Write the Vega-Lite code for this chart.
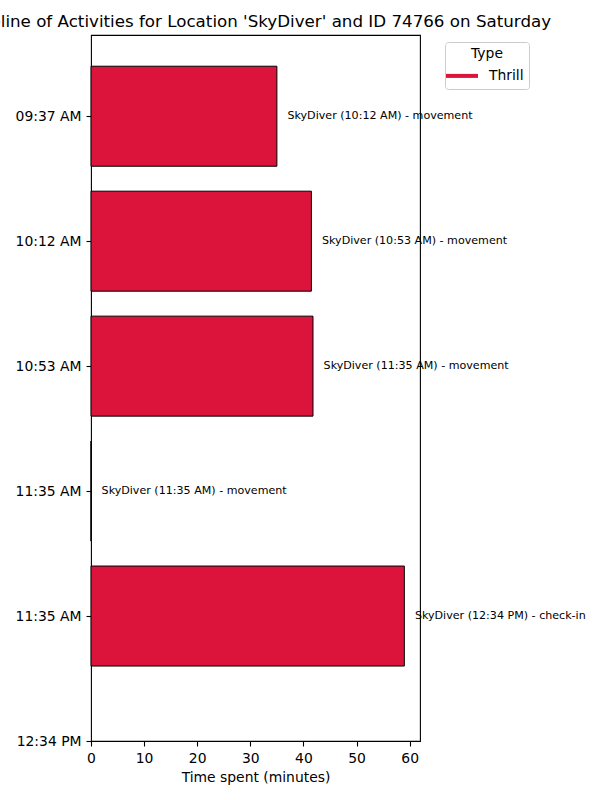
{
  "$schema": "https://vega.github.io/schema/vega-lite/v6.json",
  "autosize": {"type": "none"},
  "padding": {"left": 91, "top": 35, "right": 180, "bottom": 59},
  "width": 329,
  "height": 706,
  "title": {
    "text": "Timeline of Activities for Location 'SkyDiver' and ID 74766 on Saturday",
    "frame": "group",
    "anchor": "middle",
    "font": "DejaVu Sans",
    "fontSize": 16.7,
    "fontWeight": "normal",
    "color": "black",
    "offset": 4
  },
  "config": {
    "font": "DejaVu Sans",
    "view": {"stroke": "black", "strokeWidth": 1.1},
    "axis": {
      "domain": false,
      "grid": false,
      "ticks": true,
      "tickColor": "black",
      "tickSize": 5,
      "tickWidth": 1.1,
      "labelColor": "black",
      "labelFont": "DejaVu Sans",
      "labelFontSize": 13.9,
      "labelPadding": 5,
      "titleFont": "DejaVu Sans",
      "titleFontSize": 13.9,
      "titleFontWeight": "normal",
      "titleColor": "black",
      "titlePadding": 6
    }
  },
  "data": {
    "values": [
      {"i": 0, "time": "09:37 AM", "minutes": 35, "note": "SkyDiver (10:12 AM) - movement", "type": "Thrill"},
      {"i": 1, "time": "10:12 AM", "minutes": 41.5, "note": "SkyDiver (10:53 AM) - movement", "type": "Thrill"},
      {"i": 2, "time": "10:53 AM", "minutes": 41.8, "note": "SkyDiver (11:35 AM) - movement", "type": "Thrill"},
      {"i": 3, "time": "11:35 AM", "minutes": 0, "note": "SkyDiver (11:35 AM) - movement", "type": "Thrill"},
      {"i": 4, "time": "11:35 AM", "minutes": 59, "note": "SkyDiver (12:34 PM) - check-in", "type": "Thrill"}
    ]
  },
  "encoding": {
    "y": {
      "field": "i",
      "type": "quantitative",
      "scale": {"domain": [-0.65, 5], "reverse": true, "nice": false, "zero": false, "padding": 0},
      "axis": {
        "title": null,
        "values": [0, 1, 2, 3, 4, 5],
        "labelExpr": "['09:37 AM','10:12 AM','10:53 AM','11:35 AM','11:35 AM','12:34 PM'][datum.value]"
      }
    },
    "x": {
      "field": "minutes",
      "type": "quantitative",
      "stack": null,
      "scale": {"domain": [0, 61.95], "nice": false, "padding": 0},
      "axis": {
        "title": "Time spent (minutes)",
        "values": [0, 10, 20, 30, 40, 50, 60],
        "labelFlush": false
      }
    }
  },
  "layer": [
    {
      "mark": {"type": "bar", "orient": "horizontal", "size": 100, "stroke": "black", "strokeWidth": 1},
      "encoding": {
        "color": {
          "field": "type",
          "type": "nominal",
          "scale": {"range": ["#DC143C"]},
          "legend": {
            "orient": "none",
            "legendX": 354,
            "legendY": 7,
            "title": "Type",
            "titleAnchor": "middle",
            "titleFont": "DejaVu Sans",
            "titleFontSize": 13.9,
            "titleFontWeight": "normal",
            "titleColor": "black",
            "titlePadding": 5,
            "labelFont": "DejaVu Sans",
            "labelFontSize": 13.9,
            "labelColor": "black",
            "labelOffset": 17,
            "symbolType": "M-2,0H2",
            "symbolSize": 256,
            "symbolOffset": 2,
            "symbolStrokeWidth": 4,
            "symbolStrokeColor": "#DC143C",
            "padding": 5,
            "strokeColor": "#cccccc",
            "fillColor": "white",
            "cornerRadius": 3,
            "encode": {
              "symbols": {"update": {"stroke": {"value": "#DC143C"}, "strokeWidth": {"value": 4}, "fill": {"value": "transparent"}}}
            }
          }
        }
      }
    },
    {
      "mark": {"type": "text", "align": "left", "baseline": "middle", "dx": 10.6, "fontSize": 11.1, "font": "DejaVu Sans", "color": "black"},
      "encoding": {"text": {"field": "note"}}
    }
  ]
}
